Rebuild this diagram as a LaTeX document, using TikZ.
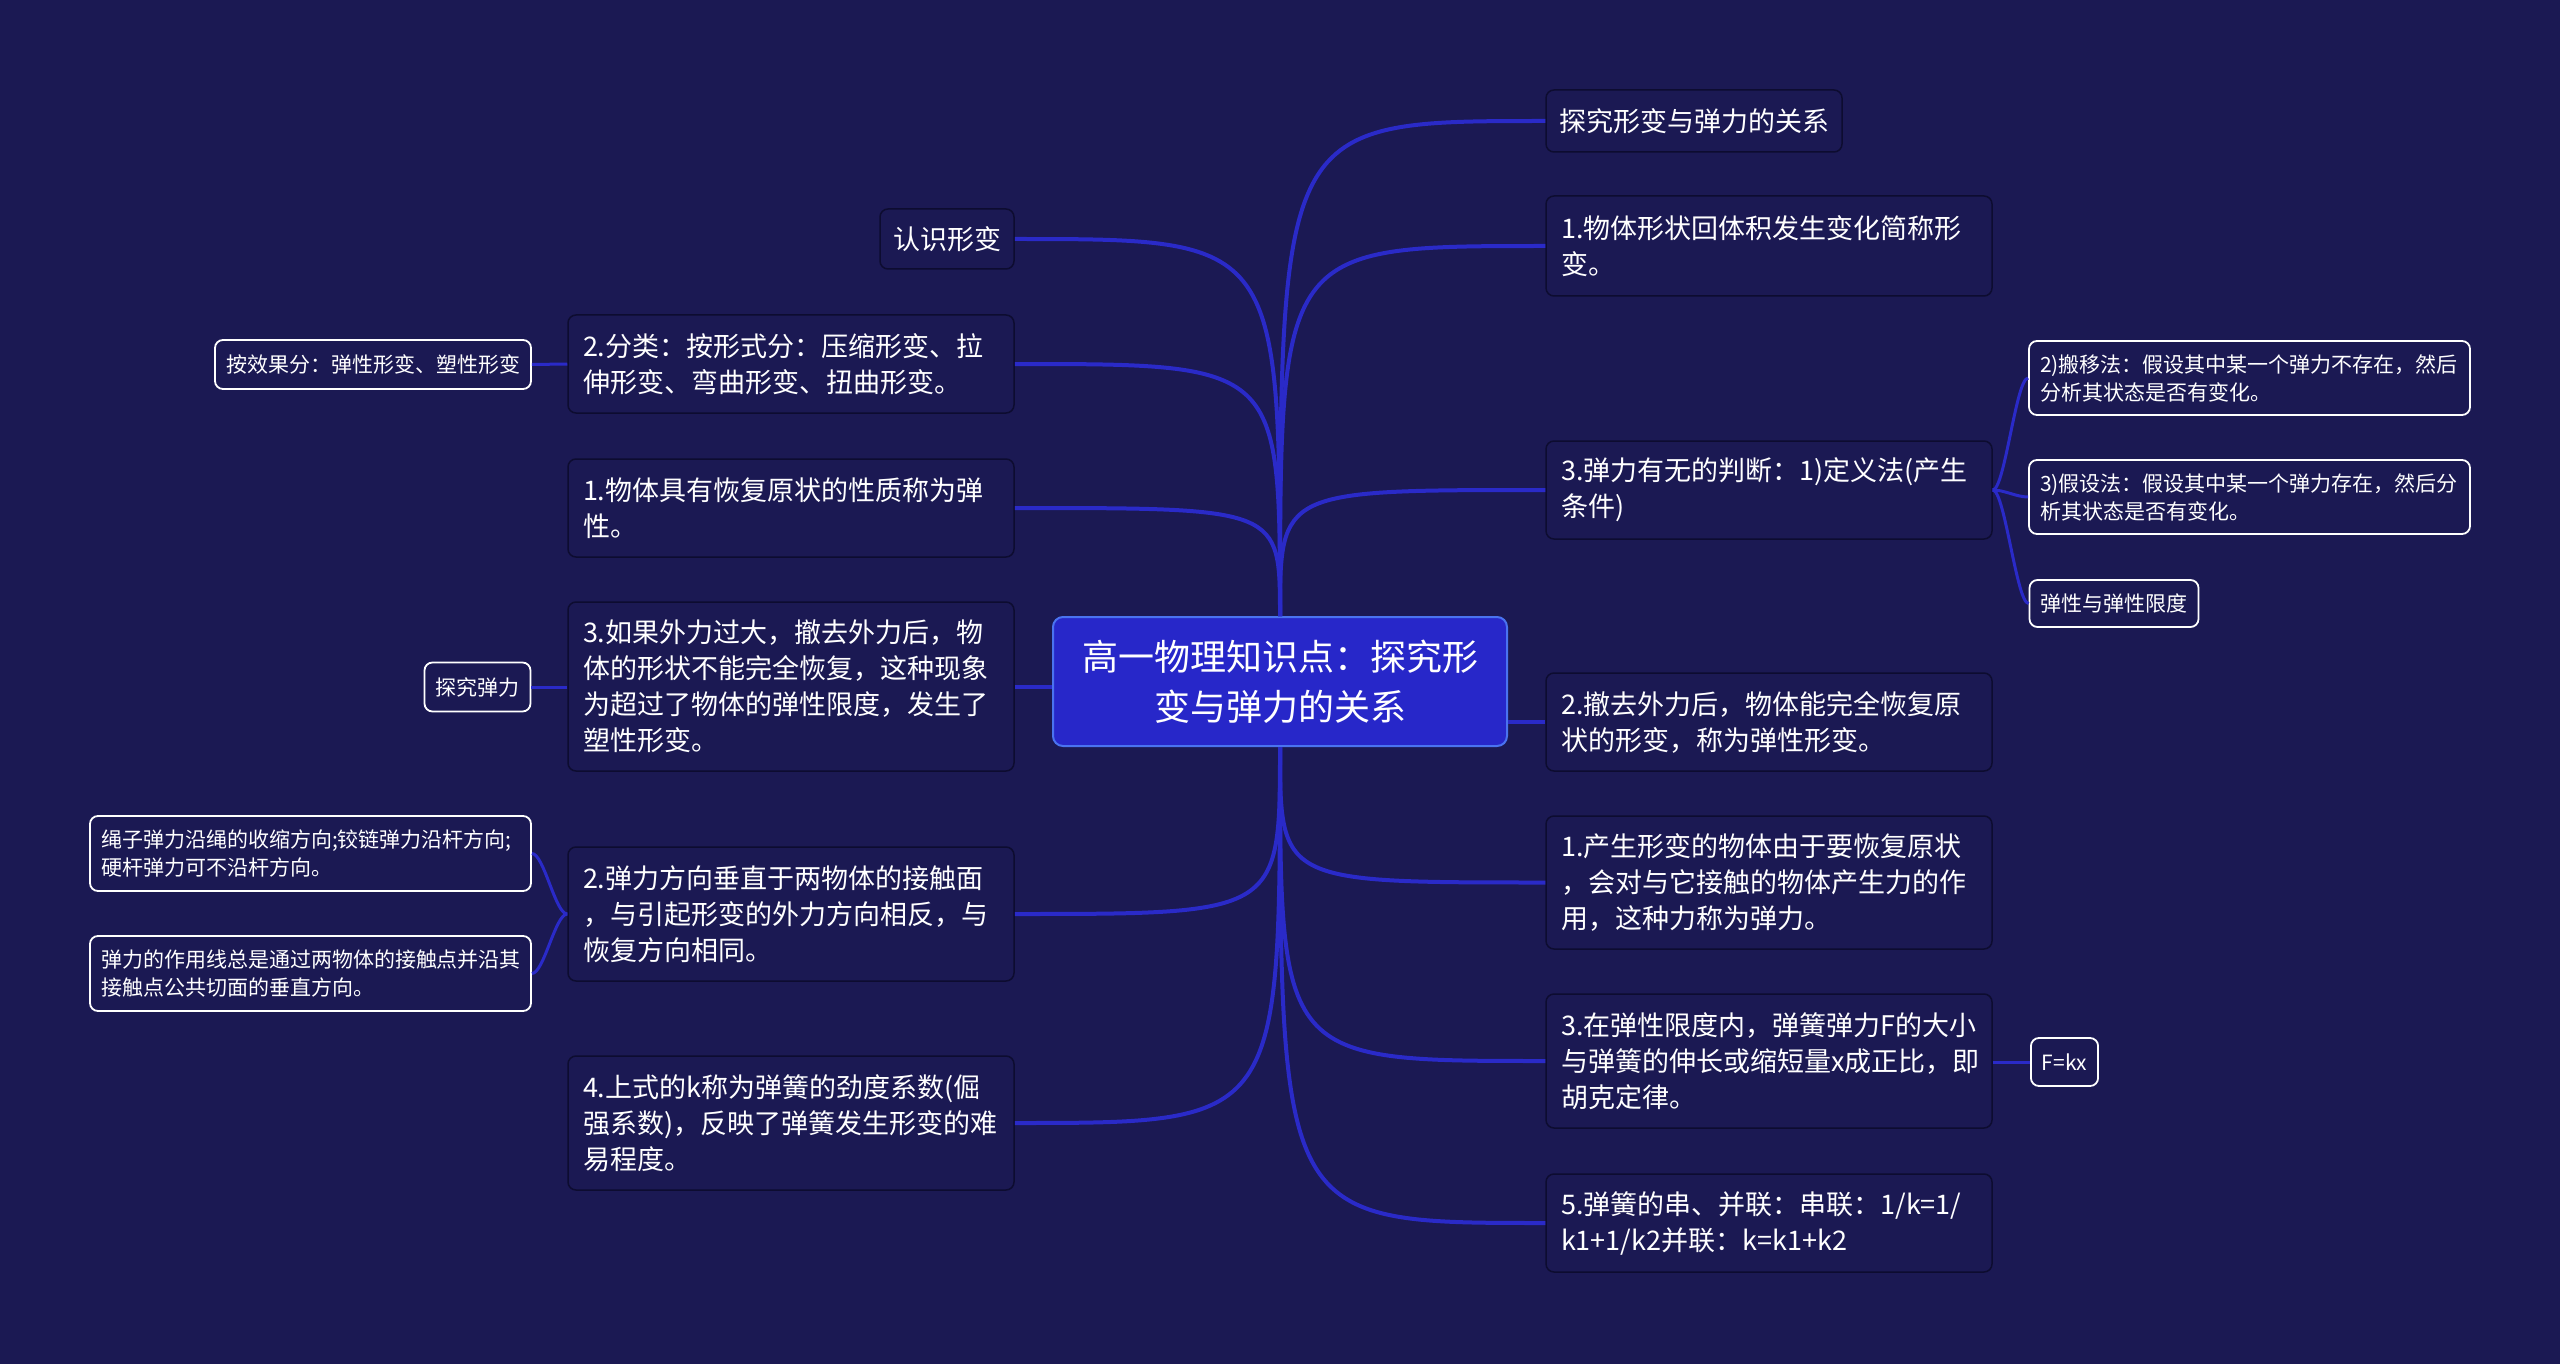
\documentclass[tikz,border=0pt]{standalone}
\usepackage{fontspec}
\newfontfamily\cjk{Noto Sans CJK SC}
\definecolor{bgc}{HTML}{1B1953}
\definecolor{nodeb}{HTML}{0D0C30}
\definecolor{linec}{HTML}{2A2AC8}
\definecolor{rootf}{HTML}{2727C9}
\definecolor{rootb}{HTML}{4A73F0}
\tikzset{
  base/.style={fill=bgc, rounded corners=8pt, text=white, inner ysep=0pt},
  lvtwo/.style={base, draw=nodeb, line width=1.5pt, font=\cjk\fontsize{27}{36}\selectfont},
  wide/.style={lvtwo, text width=416pt, inner xsep=15pt, align=left},
  short/.style={lvtwo, inner xsep=13pt, align=center},
  lvthree/.style={base, draw=white, line width=1.8pt, font=\cjk\fontsize{21}{28}\selectfont, inner xsep=11pt},
  rootn/.style={fill=rootf, draw=rootb, line width=2pt, rounded corners=10pt, text=white,
     font=\cjk\fontsize{36}{50}\selectfont, align=center, minimum width=454pt, minimum height=129pt},
  mainln/.style={draw=linec, line width=4pt},
  subln/.style={draw=linec, line width=3pt},
}
\begin{document}
\begin{tikzpicture}[x=1pt,y=-1pt]
\fill[bgc] (0,0) rectangle (2560,1364);
\useasboundingbox (0,0) rectangle (2560,1364);

% root
\node[rootn] (root) at (1280,681.5) {高一物理知识点：探究形\\变与弹力的关系};

% left level 2
\node[short, minimum height=60pt] (kn1) at (947,239) {认识形变};
\node[wide, minimum height=98pt] (n2) at (791,364) {2.分类：按形式分：压缩形变、拉\\伸形变、弯曲形变、扭曲形变。};
\node[wide, minimum height=98pt] (n3) at (791,508) {1.物体具有恢复原状的性质称为弹\\性。};
\node[wide, minimum height=169pt] (n4) at (791,686.5) {3.如果外力过大，撤去外力后，物\\体的形状不能完全恢复，这种现象\\为超过了物体的弹性限度，发生了\\塑性形变。};
\node[wide, minimum height=134pt] (n5) at (791,914) {2.弹力方向垂直于两物体的接触面\\，与引起形变的外力方向相反，与\\恢复方向相同。};
\node[wide, minimum height=134pt] (n6) at (791,1123) {4.上式的k称为弹簧的劲度系数(倔\\强系数)，反映了弹簧发生形变的难\\易程度。};

% left level 3
\node[lvthree, minimum height=49pt, align=center] (c1) at (373,364.5) {按效果分：弹性形变、塑性形变};
\node[lvthree, minimum height=49pt, align=center] (c2) at (477.5,687) {探究弹力};
\node[lvthree, minimum height=75pt, text width=419pt, align=left] (c3) at (310.5,853.5) {绳子弹力沿绳的收缩方向;铰链弹力沿杆方向;\\硬杆弹力可不沿杆方向。};
\node[lvthree, minimum height=75pt, text width=419pt, align=left] (c4) at (310.5,973.5) {弹力的作用线总是通过两物体的接触点并沿其\\接触点公共切面的垂直方向。};

% right level 2
\node[short, minimum height=62pt] (r1) at (1694,121) {探究形变与弹力的关系};
\node[wide, minimum height=100pt] (r2) at (1769,246) {1.物体形状回体积发生变化简称形\\变。};
\node[wide, minimum height=98pt] (r3) at (1769,490) {3.弹力有无的判断：1)定义法(产生\\条件)};
\node[wide, minimum height=98pt] (r4) at (1769,722) {2.撤去外力后，物体能完全恢复原\\状的形变，称为弹性形变。};
\node[wide, minimum height=133pt] (r5) at (1769,882.5) {1.产生形变的物体由于要恢复原状\\，会对与它接触的物体产生力的作\\用，这种力称为弹力。};
\node[wide, minimum height=134pt] (r6) at (1769,1061) {3.在弹性限度内，弹簧弹力F的大小\\与弹簧的伸长或缩短量x成正比，即\\胡克定律。};
\node[wide, minimum height=98pt] (r7) at (1769,1223) {5.弹簧的串、并联：串联：1/k=1/\\k1+1/k2并联：k=k1+k2};

% right level 3
\node[lvthree, minimum height=74pt, text width=419pt, align=left] (d1) at (2249.5,378) {2)搬移法：假设其中某一个弹力不存在，然后\\分析其状态是否有变化。};
\node[lvthree, minimum height=74pt, text width=419pt, align=left] (d2) at (2249.5,497) {3)假设法：假设其中某一个弹力存在，然后分\\析其状态是否有变化。};
\node[lvthree, minimum height=47pt, align=center] (d3) at (2114,603.5) {弹性与弹性限度};
\node[lvthree, minimum height=48pt, align=center] (d4) at (2064.5,1062) {F=kx};

% main connectors: upper
\draw[mainln] (root.north) .. controls (root.north |- kn1.east) .. (kn1.east);
\draw[mainln] (root.north) .. controls (root.north |- n2.east) .. (n2.east);
\draw[mainln] (root.north) .. controls (root.north |- n3.east) .. (n3.east);
\draw[mainln] (root.north) .. controls (root.north |- r1.west) .. (r1.west);
\draw[mainln] (root.north) .. controls (root.north |- r2.west) .. (r2.west);
\draw[mainln] (root.north) .. controls (root.north |- r3.west) .. (r3.west);
% horizontal
\draw[mainln] (n4.east) -- (n4.east -| root.west);
\draw[mainln] (root.east |- r4.west) -- (r4.west);
% lower
\draw[mainln] (root.south) .. controls (root.south |- n5.east) .. (n5.east);
\draw[mainln] (root.south) .. controls (root.south |- n6.east) .. (n6.east);
\draw[mainln] (root.south) .. controls (root.south |- r5.west) .. (r5.west);
\draw[mainln] (root.south) .. controls (root.south |- r6.west) .. (r6.west);
\draw[mainln] (root.south) .. controls (root.south |- r7.west) .. (r7.west);

% sub connectors
\draw[subln] (n2.west) -- (c1.east);
\draw[subln] (n4.west |- c2.east) -- (c2.east);
\draw[subln] (n5.west) .. controls +(-12,0) and +(12,0) .. (c3.east);
\draw[subln] (n5.west) .. controls +(-12,0) and +(12,0) .. (c4.east);
\draw[subln] (r3.east) .. controls +(12,0) and +(-12,0) .. (d1.west);
\draw[subln] (r3.east) .. controls +(12,0) and +(-12,0) .. (d2.west);
\draw[subln] (r3.east) .. controls +(12,0) and +(-12,0) .. (d3.west);
\draw[subln] (r6.east |- d4.west) -- (d4.west);
\end{tikzpicture}
\end{document}
